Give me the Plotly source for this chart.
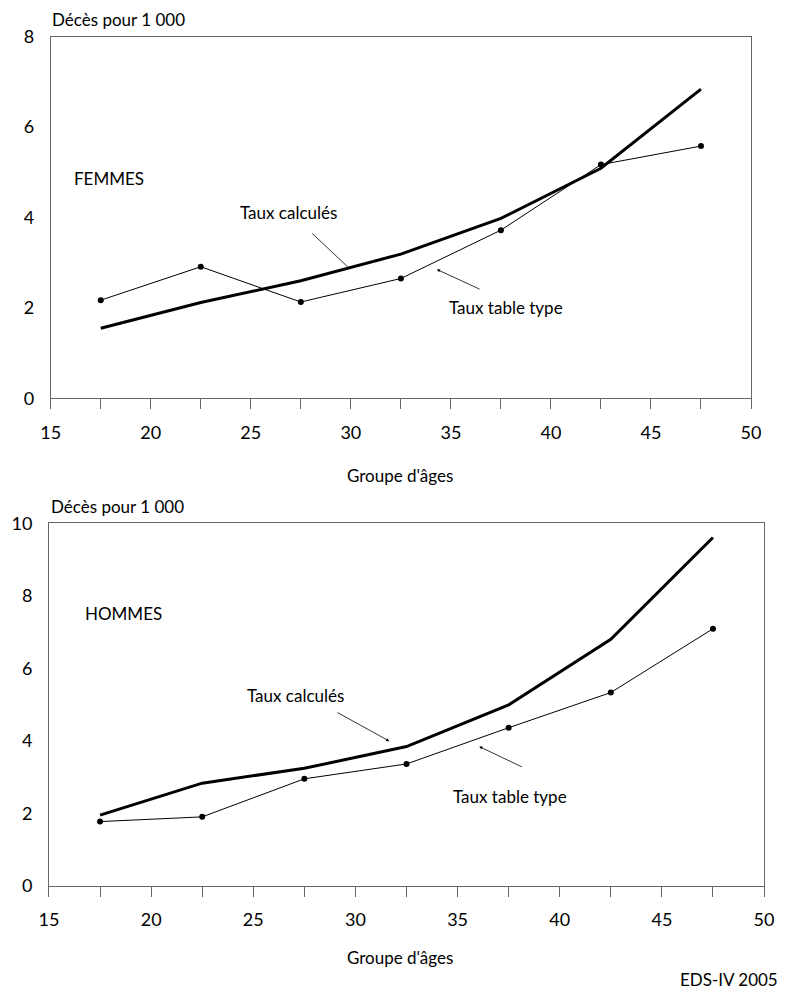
import plotly.graph_objects as go

ages = [17.5, 22.5, 27.5, 32.5, 37.5, 42.5, 47.5]

femmes_calc = [1.55, 2.12, 2.60, 3.19, 3.98, 5.09, 6.84]
femmes_type = [2.17, 2.91, 2.13, 2.65, 3.72, 5.17, 5.58]

hommes_calc = [1.95, 2.83, 3.24, 3.84, 4.99, 6.80, 9.61]
hommes_type = [1.77, 1.90, 2.95, 3.36, 4.36, 5.33, 7.09]

x_tickvals = [15, 17.5, 20, 22.5, 25, 27.5, 30, 32.5, 35, 37.5, 40, 42.5, 45, 47.5, 50]
x_ticktext = [str(int(v)) if v % 5 == 0 else '' for v in x_tickvals]

FONT = 'Lato'
AXIS_COLOR = '#666666'

fig = go.Figure()

for xa, ya, calc, typ in [('x', 'y', femmes_calc, femmes_type),
                          ('x2', 'y2', hommes_calc, hommes_type)]:
    fig.add_trace(go.Scatter(
        x=ages, y=typ, mode='lines+markers', xaxis=xa, yaxis=ya,
        line=dict(color='black', width=1),
        marker=dict(color='black', size=6),
        showlegend=False
    ))
    fig.add_trace(go.Scatter(
        x=ages, y=calc, mode='lines', xaxis=xa, yaxis=ya,
        line=dict(color='black', width=3),
        showlegend=False
    ))

xaxis_common = dict(
    range=[15, 50], tickvals=x_tickvals, ticktext=x_ticktext,
    ticks='outside', ticklen=10, tickcolor=AXIS_COLOR, tickwidth=1,
    showline=True, linecolor=AXIS_COLOR, linewidth=1, mirror=True,
    showgrid=False, zeroline=False, ticklabelstandoff=8, automargin=False,
    tickfont=dict(family=FONT, size=18, color='black')
)
yaxis_common = dict(
    ticks='', showline=True, linecolor=AXIS_COLOR, linewidth=1, mirror=True,
    showgrid=False, zeroline=False, ticklabelstandoff=12, automargin=False,
    tickfont=dict(family=FONT, size=18, color='black')
)

# the page adds an 8px body margin, so the figure is 8px smaller each way
fig.update_layout(
    width=785, height=984,
    margin=dict(l=0, r=0, t=0, b=0),
    paper_bgcolor='white', plot_bgcolor='white',
    font=dict(family=FONT, size=16, color='black'),
    xaxis=dict(xaxis_common, domain=[0.0544, 0.9465], anchor='y'),
    yaxis=dict(yaxis_common, domain=[0.6034, 0.9708], range=[0, 8], dtick=2, anchor='x'),
    xaxis2=dict(xaxis_common, domain=[0.0522, 0.9631], anchor='y2'),
    yaxis2=dict(yaxis_common, domain=[0.1080, 0.4763], range=[0, 10], dtick=2, anchor='x2'),
)

paper_texts = [
    ('Décès pour 1 000', 0.0535, 0.9888, 'left', 'middle'),
    ("Groupe d'âges", 0.4994, 0.5254, 'center', 'middle'),
    ('Décès pour 1 000', 0.0522, 0.4932, 'left', 'middle'),
    ("Groupe d'âges", 0.4994, 0.0346, 'center', 'middle'),
    ('EDS-IV 2005', 0.984, 0.0, 'right', 'bottom'),
]
for txt, px, py, xanchor, yanchor in paper_texts:
    fig.add_annotation(text=txt, x=px, y=py, xref='paper', yref='paper',
                       xanchor=xanchor, yanchor=yanchor, showarrow=False,
                       font=dict(family=FONT, size=17))

# labels inside the plots
labels = [
    ('FEMMES', 16.05, 4.87, 'x', 'y', 'left'),
    ('Taux calculés', 26.9, 4.10, 'x', 'y', 'center'),
    ('Taux table type', 37.78, 2.0, 'x', 'y', 'center'),
    ('HOMMES', 16.68, 7.52, 'x2', 'y2', 'left'),
    ('Taux calculés', 27.09, 5.26, 'x2', 'y2', 'center'),
    ('Taux table type', 37.56, 2.46, 'x2', 'y2', 'center'),
]
for txt, x, y, xr, yr, anchor in labels:
    fig.add_annotation(text=txt, x=x, y=y, xref=xr, yref=yr, xanchor=anchor,
                       yanchor='middle', showarrow=False, font=dict(family=FONT, size=17))

# pointer arrows (tail -> head)
arrows = [
    (27.99, 3.68, 29.84, 2.91, 'x', 'y', 0),
    (36.51, 2.40, 34.30, 2.85, 'x', 'y', 2),
    (29.05, 4.80, 31.66, 3.99, 'x2', 'y2', 2),
    (38.22, 3.26, 36.06, 3.84, 'x2', 'y2', 2),
]
for ax, ay, x, y, xr, yr, head in arrows:
    fig.add_annotation(text='', x=x, y=y, ax=ax, ay=ay, xref=xr, yref=yr,
                       axref=xr, ayref=yr, showarrow=True, arrowhead=head,
                       arrowsize=0.8, arrowwidth=0.8, arrowcolor='black')

fig.write_html("out.html")
